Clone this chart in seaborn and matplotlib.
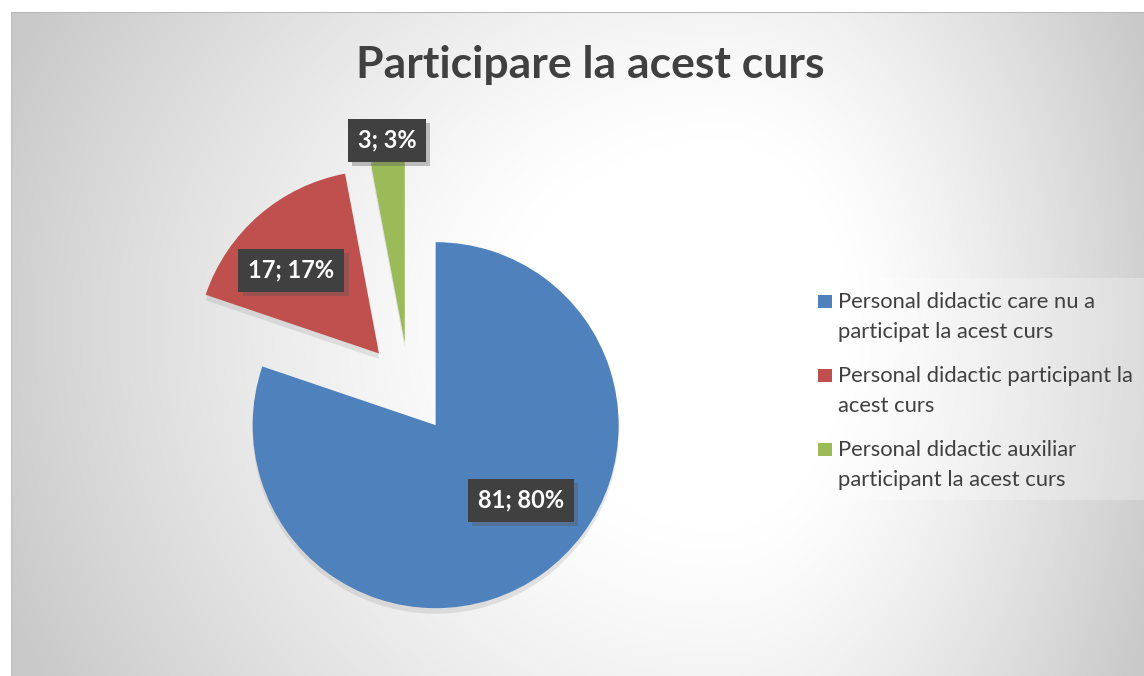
import numpy as np
import matplotlib
matplotlib.use("Agg")
import matplotlib.pyplot as plt
import matplotlib.patheffects as pe
from matplotlib.patches import Rectangle
import seaborn as sns

# ---- data ----
categories = [
    "Personal didactic care nu a\nparticipat la acest curs",
    "Personal didactic participant la\nacest curs",
    "Personal didactic auxiliar\nparticipant la acest curs",
]
values = [81, 17, 3]
title = "Participare la acest curs"
colors = ["#4F81BD", "#C0504D", "#9BBB59"]

sns.set_theme(style="white")
plt.rcParams["font.family"] = ["Lato", "DejaVu Sans"]

W, H = 1144, 676
fig = plt.figure(figsize=(W / 100, H / 100), dpi=100)
fig.patch.set_facecolor("white")

# ---- background gradient (chart area) ----
x0, y0 = 11, 12
bg = fig.add_axes([x0 / W, 0, (W - x0) / W, (H - y0) / H])
bg.set_axis_off()
gw, gh = W - x0, H - y0
xx, yy = np.meshgrid(np.arange(gw) + x0, np.arange(gh) + y0)
cx, cy = 720, 320
nx = np.where(xx < cx, (cx - xx) / 710.0, (xx - cx) / 430.0)
ny = np.where(yy < cy, (cy - yy) / 600.0, (yy - cy) / 700.0)
d = np.sqrt(nx ** 2 + ny ** 2)
f = np.clip((d - 0.3) / 0.8, 0, 1) ** 1.2
val = (255 - 55 * f) / 255.0
img = np.dstack([val, val, val])
bg.imshow(img, aspect="auto", extent=[0, 1, 0, 1], origin="upper")
bg.set_xlim(0, 1)
bg.set_ylim(0, 1)
bg.plot([0, 1], [1, 1], color="#b8b8b8", lw=1.5, transform=bg.transAxes)
bg.plot([0, 0], [0, 1], color="#c0c0c0", lw=1.0, transform=bg.transAxes)

# ---- pie ----
R = 183.0
S = 500
pcx, pcy = 409, 388
ax = fig.add_axes([(pcx - S / 2) / W, (H - pcy - S / 2) / H, S / W, S / H])
ax.set_axis_off()
wedges, _ = ax.pie(
    values,
    colors=colors,
    startangle=90,
    counterclock=False,
    explode=[0.25, 0.25, 0.25],
    radius=1.0,
    wedgeprops=dict(linewidth=0),
)
for w in wedges:
    w.set_path_effects([
        pe.SimplePatchShadow(offset=(0, -4), shadow_rgbFace="#888888", alpha=0.2),
        pe.Normal(),
    ])
L = S / 2 / R
ax.set_xlim(-L, L)
ax.set_ylim(-L, L)
ax.set_aspect("equal")

# ---- data labels ----
total = sum(values)
lab_dist = [0.62, 0.66, 1.11]
lab_dang = [13.0, 5.5, -0.3]
for w, v, ld, da in zip(wedges, values, lab_dist, lab_dang):
    ang = np.deg2rad((w.theta1 + w.theta2) / 2 + da)
    cxw, cyw = w.center
    tx = cxw + ld * np.cos(ang)
    ty = cyw + ld * np.sin(ang)
    t = ax.text(
        tx, ty, f"{v}; {round(100 * v / total)}%",
        ha="center", va="center", color="white", fontsize=17, fontweight="bold",
        bbox=dict(boxstyle="square,pad=0.42", fc="#404040", ec="none"),
        zorder=5,
    )
    t.get_bbox_patch().set_path_effects([
        pe.SimplePatchShadow(offset=(3, -3), shadow_rgbFace="#555555", alpha=0.35),
        pe.Normal(),
    ])

# ---- title ----
fig.text(590 / W, 1 - 65 / H, title, ha="center", va="center",
         fontsize=32, fontweight="bold", color="#404040")

# ---- legend (manual, markers aligned with first line) ----
fig.patches.append(Rectangle((806 / W, 1 - 500 / H), (W - 806) / W, 222 / H,
                             transform=fig.transFigure, fc="white", alpha=0.25,
                             ec="none", zorder=1))
base0 = 308
line_gap = 30
for i, (c, lab) in enumerate(zip(colors, categories)):
    by = base0 + 74 * i
    nlines = lab.count("\n")
    fig.patches.append(Rectangle((818 / W, 1 - by / H), 13.5 / W, 13.5 / H,
                                 transform=fig.transFigure, fc=c, ec="none", zorder=3))
    fig.text(838 / W, 1 - (by + line_gap * nlines) / H, lab, ha="left", va="baseline",
             fontsize=15.8, color="#404040", linespacing=1.62, zorder=3)

fig.savefig("out.png", dpi=100)
